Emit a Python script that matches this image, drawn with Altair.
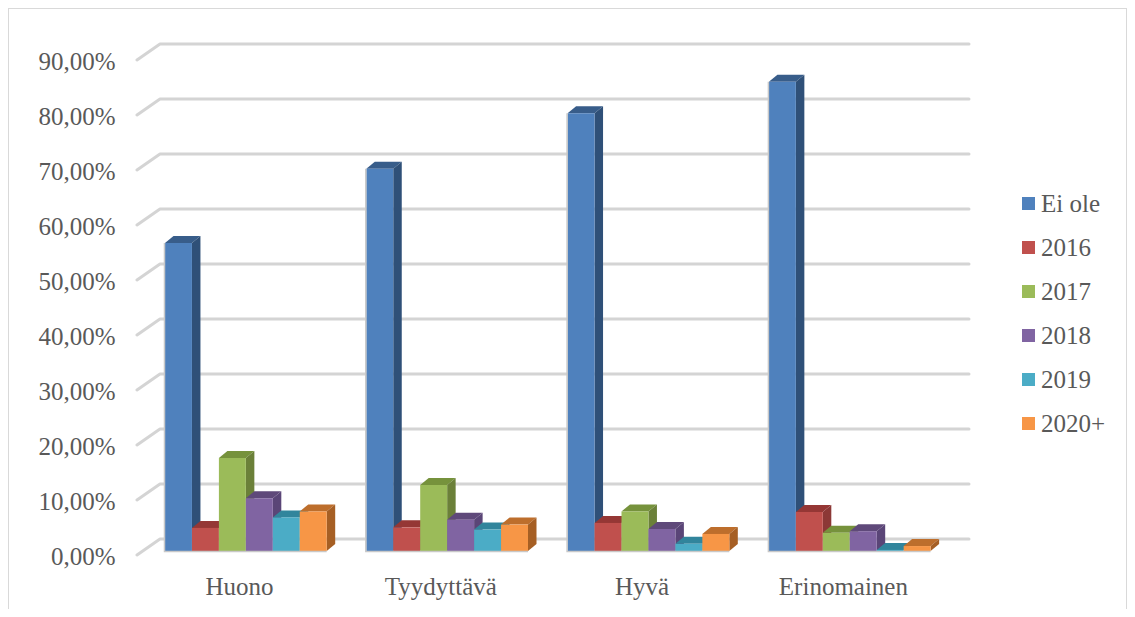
import altair as alt
import pandas as pd

categories = ["Huono", "Tyydyttävä", "Hyvä", "Erinomainen"]
series = ["Ei ole", "2016", "2017", "2018", "2019", "2020+"]
ei_ole = [56.0, 69.5, 79.6, 85.3]
v2016 = [4.2, 4.3, 5.1, 7.1]
v2017 = [16.9, 12.0, 7.2, 3.3]
v2018 = [9.6, 5.7, 4.0, 3.6]
v2019 = [6.1, 3.9, 1.3, 0.2]
v2020 = [7.2, 4.8, 3.1, 0.9]
values = [ei_ole, v2016, v2017, v2018, v2019, v2020]

front = ["#4f81bd", "#c0504d", "#9bbb59", "#8064a2", "#4bacc6", "#f79646"]
side = ["#2f5078", "#8c3836", "#6b8039", "#5a4577", "#2f8097", "#a65f24"]
top = ["#385d8a", "#953735", "#76923c", "#5f497a", "#31859c", "#bd6e2c"]
ticks = [0, 10, 20, 30, 40, 50, 60, 70, 80, 90]

W, H = 1119, 601
PX = 5.5               # pixels per percentage point
BASE = 543             # plot y of value 0
GROUP0, GROUP_STEP, BAR = 157, 201.3, 26.95
DX, DV = 8.5, 7 / PX
LABEL_SHIFT = 74

rows = []
def poly(pid, key, pts):
    for x, y, y2 in pts:
        rows.append({"pid": pid, "key": key, "x": x, "y": y, "y2": y2})

edge_rows = []
for g in range(len(categories)):
    gx = GROUP0 + g * GROUP_STEP
    edge_rows += [
        {"g": g, "o": 0, "x": gx - 0.5, "y": ei_ole[g]},
        {"g": g, "o": 1, "x": gx - 0.5, "y": -0.1},
        {"g": g, "o": 2, "x": gx + len(series) * BAR, "y": -0.1},
    ]
    for s, name in enumerate(series):
        v = values[s][g]
        x0 = gx + s * BAR
        x1 = x0 + BAR
        pid = g * 100 + s * 10
        poly(pid + 1, name + " top", [(x0, v, v), (x0 + DX, v, v + DV), (x1, v, v + DV), (x1 + DX, v + DV, v + DV)])
        poly(pid + 2, name + " side", [(x1, 0, v), (x1 + DX, DV, v + DV)])
        poly(pid + 3, name, [(x0, 0, v), (x1, 0, v)])
bars = pd.DataFrame(rows)
edges = pd.DataFrame(edge_rows)

FX0, FX1, FX2 = 129, 152, 961
grid_rows = []
for t in ticks:
    grid_rows += [
        {"t": t, "x": FX0, "y": t - 4 / PX},
        {"t": t, "x": FX1, "y": t + 12 / PX},
        {"t": t, "x": FX2, "y": t + 12 / PX},
    ]
grid = pd.DataFrame(grid_rows)

# left, top and right edges of the chart frame, no bottom edge
frame = pd.DataFrame({"x": [0, 0, W, W], "y": [(BASE - H) / PX, BASE / PX, BASE / PX, (BASE - H) / PX]})
frame["o"] = range(4)

xscale = alt.Scale(domain=[0, W], nice=False, zero=False)
yscale = alt.Scale(domain=[(BASE - H) / PX, BASE / PX], nice=False, zero=False)

centers = [GROUP0 + g * GROUP_STEP + LABEL_SHIFT for g in range(len(categories))]
label_expr = "{" + ",".join(f"'{c:.2f}':'{n}'" for c, n in zip(centers, categories)) + "}[format(datum.value,'.2f')]"

FONT = "Liberation Serif"
TXT = "#595959"

xaxis = alt.Axis(
    title=None, values=centers, labelExpr=label_expr, domain=False, ticks=False, grid=False,
    labelFont=FONT, labelFontSize=25, labelColor=TXT, labelPadding=0, labelOverlap=False,
    labelFlush=False, offset=-35, orient="bottom", labelBaseline="top")
yaxis = alt.Axis(
    title=None, values=ticks, labelExpr="replace(format(datum.value,'.2f'),'.',',')+'%'",
    domain=False, ticks=False, grid=False, labelFont=FONT, labelFontSize=25, labelColor=TXT,
    labelPadding=0, labelOffset=5, labelOverlap=False, labelFlush=False, offset=-107, orient="left")
xenc = alt.X("x:Q", scale=xscale, axis=xaxis)
yenc = alt.Y("y:Q", scale=yscale, axis=yaxis)

frame_layer = alt.Chart(frame).mark_line(color="#d9d9d9", strokeWidth=2).encode(x=xenc, y=yenc, order="o:Q")

grid_layer = alt.Chart(grid).mark_line(color="#d4d4d4", strokeWidth=3, strokeCap="round", strokeJoin="round").encode(
    x=xenc, y=yenc, detail="t:N",
)

fill_domain = series + [s + " side" for s in series] + [s + " top" for s in series]
fill_range = front + side + top

bar_layer = alt.Chart(bars).mark_area(orient="vertical", interpolate="linear").encode(
    x=xenc, y=yenc,
    y2="y2:Q",
    detail="pid:N",
    fill=alt.Fill("key:N", scale=alt.Scale(domain=fill_domain, range=fill_range), legend=alt.Legend(
        values=series, title=None, orient="none", legendX=1008, legendY=183,
        symbolType="square", symbolSize=169, symbolStrokeWidth=0, labelFont=FONT, labelFontSize=25,
        labelColor=TXT, rowPadding=18, labelOffset=0, labelLimit=200)),
)

edge_layer = alt.Chart(edges).mark_line(color="#c8c8c8", strokeWidth=1.5).encode(
    x=xenc, y=yenc, detail="g:N", order="o:Q"
)

chart = alt.layer(frame_layer, grid_layer, bar_layer, edge_layer).properties(
    width=W, height=H, padding=0, autosize=alt.AutoSizeParams(type="none"), background="white"
).configure_view(stroke=None)

chart.save("out.html", embed_options={"renderer": "svg", "actions": False})
